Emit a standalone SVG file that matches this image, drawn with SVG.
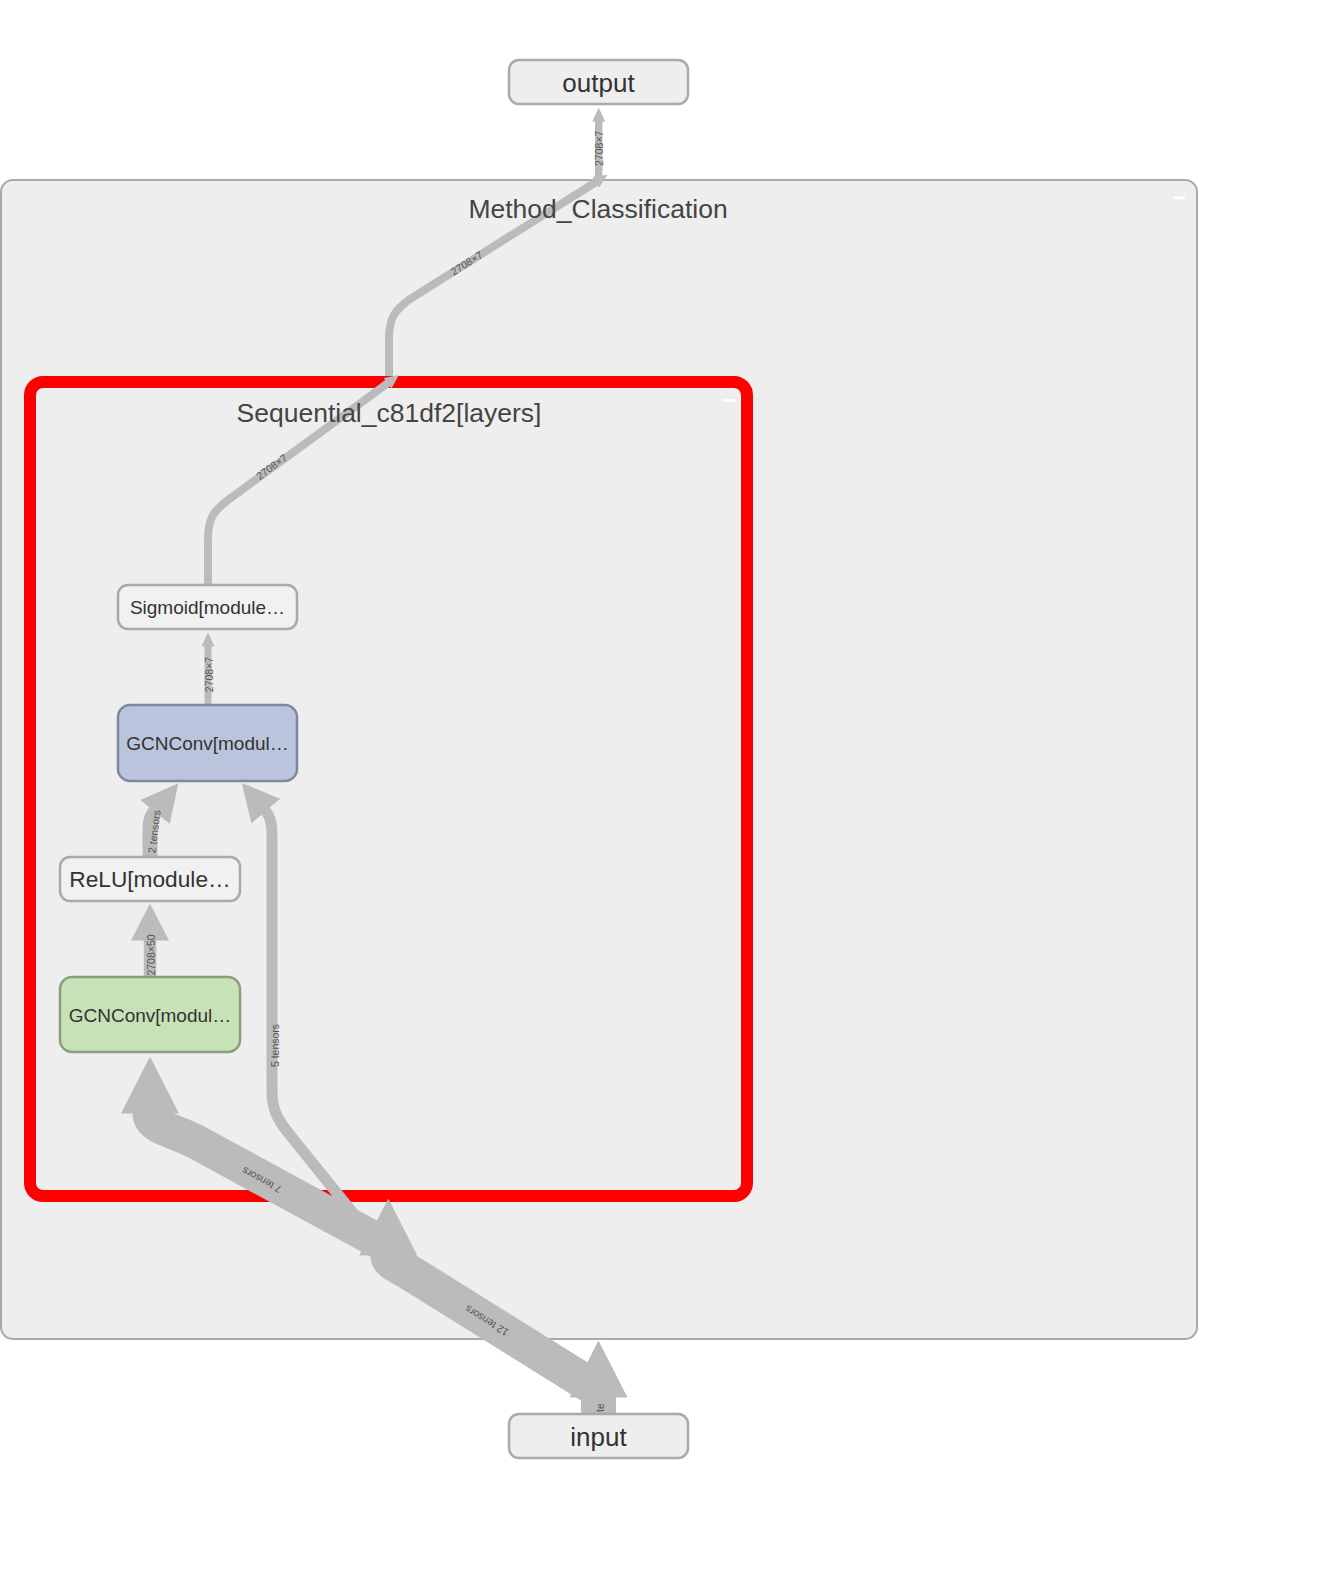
<svg xmlns="http://www.w3.org/2000/svg" width="1317" height="1579" viewBox="0 0 1317 1579">
  <style>
    .cluster { fill: #eeeeee; stroke: #a9a9a9; stroke-width: 2; }
    .seq { fill: #eeeeee; stroke: #ff0000; stroke-width: 12; }
    .title { font-family: 'Liberation Sans', Arial, sans-serif; font-size: 26.5px; fill: #444444; text-anchor: middle; }
    .node { fill: #eeeeee; stroke: #a9a9a9; stroke-width: 2.5; }
    .meta { fill: #f1f1f1; stroke: #a9a9a9; stroke-width: 2.5; }
    .blue { fill: #bac5dd; stroke: #7f889e; stroke-width: 2.5; }
    .green { fill: #c6e2b6; stroke: #8a9e7e; stroke-width: 2.5; }
    .ntext { font-family: 'Liberation Sans', Arial, sans-serif; fill: #333333; text-anchor: middle; }
    .edge { fill: none; stroke: #bbbbbb; }
    .elabel { font-family: 'Liberation Sans', Arial, sans-serif; font-size: 10.5px; fill: #555555; text-anchor: middle; }
    .minus { stroke: #ffffff; stroke-width: 2.5; }
  </style>
  <defs>
    <marker id="arrow-s" markerUnits="userSpaceOnUse" viewBox="0 0 14 13" markerWidth="14" markerHeight="13" refX="0.5" refY="6.5" orient="auto">
      <path d="M0,0 L14,6.5 L0,13 z" fill="#bbbbbb"/>
    </marker>
    <marker id="arrow-l" markerUnits="userSpaceOnUse" viewBox="0 0 37 38" markerWidth="37" markerHeight="38" refX="0.5" refY="19" orient="auto">
      <path d="M0,0 L37,19 L0,38 z" fill="#bbbbbb"/>
    </marker>
    <marker id="arrow-xl" markerUnits="userSpaceOnUse" viewBox="0 0 57 58" markerWidth="57" markerHeight="58" refX="0.5" refY="29" orient="auto">
      <path d="M0,0 L57,29 L0,58 z" fill="#bbbbbb"/>
    </marker>
  </defs>
  <rect width="1317" height="1579" fill="#ffffff"/>

  <g id="Method_Classification">
    <rect class="cluster" x="1" y="180" width="1196" height="1159" rx="12" ry="12"/>
    <line class="minus" x1="1173" y1="198" x2="1185" y2="198"/>
  </g>

  <g id="Sequential_c81df2">
    <rect class="seq" x="30" y="382" width="717" height="814" rx="13" ry="13"/>
    <line class="minus" x1="723" y1="400.5" x2="736" y2="400.5"/>
  </g>

  <g id="connectors">
    <path class="edge" stroke-width="36" d="M598,1390 L412,1274 C395,1263.5 388.3,1262 388.3,1255" marker-end="url(#arrow-xl)"/>
    <path class="edge" stroke-width="35" d="M598.5,1414 L598.5,1397" marker-end="url(#arrow-xl)"/>
    <path class="edge" stroke-width="35" d="M380,1242 L200,1144 C175,1130 150,1128 150,1113" marker-end="url(#arrow-xl)"/>
    <path class="edge" stroke-width="11" d="M365,1228 L290,1135 C276,1118 272,1108 272,1090 L272,834 C272,826 270.7,816.9 265.5,810.8" marker-end="url(#arrow-l)"/>
    <path class="edge" stroke-width="12.5" d="M150,977 L150,940" marker-end="url(#arrow-l)"/>
    <path class="edge" stroke-width="15" d="M150,857 L150,828 C150,822 151,817 155.3,811.7" marker-end="url(#arrow-l)"/>
    <path class="edge" stroke-width="7" d="M208,705 L208,646" marker-end="url(#arrow-s)"/>
    <path class="edge" stroke-width="8" d="M208,585 L208,540 C208,520 212,512 228,500 L388,383" marker-end="url(#arrow-s)"/>
    <path class="edge" stroke-width="8" d="M389,376 L389,338 C389,318 395,310 410,299 L596,182" marker-end="url(#arrow-s)"/>
    <path class="edge" stroke-width="7.5" d="M598.7,180 L598.7,121" marker-end="url(#arrow-s)"/>

    <text class="elabel" transform="translate(603,148.3) rotate(-90)">2708×7</text>
    <text class="elabel" transform="translate(468.7,266.4) rotate(-32.2)">2708×7</text>
    <text class="elabel" transform="translate(273.9,469.7) rotate(-36.2)">2708×7</text>
    <text class="elabel" transform="translate(213,674.5) rotate(-90)">2708×7</text>
    <text class="elabel" transform="translate(155.3,955) rotate(-90)">2708×50</text>
    <text class="elabel" transform="translate(158,832) rotate(-83)">2 tensors</text>
    <text class="elabel" transform="translate(278.5,1045.5) rotate(-90)">5 tensors</text>
    <text class="elabel" transform="translate(263.5,1176.8) rotate(208.55)">7 tensors</text>
    <text class="elabel" transform="translate(488.6,1317.7) rotate(211.7)">12 tensors</text>
    <text class="elabel" transform="translate(604,1407.5) rotate(-90)">te</text>
  </g>

  <g id="Method_Classification-title">
    <text class="title" x="598" y="218">Method_Classification</text>
  </g>

  <g id="Sequential_c81df2-title">
    <text class="title" x="389" y="422">Sequential_c81df2[layers]</text>
  </g>

  <g id="output">
    <rect class="node" x="509" y="60" width="179" height="44" rx="10" ry="10"/>
    <text class="ntext" x="598.5" y="91.5" font-size="26">output</text>
  </g>

  <g id="input">
    <rect class="node" x="509" y="1414" width="179" height="44" rx="10" ry="10"/>
    <text class="ntext" x="598.5" y="1445.5" font-size="26">input</text>
  </g>

  <g id="Sigmoid">
    <rect class="meta" x="118" y="585" width="179" height="44" rx="10" ry="10"/>
    <text class="ntext" x="207.5" y="614" font-size="19">Sigmoid[module…</text>
  </g>

  <g id="GCNConv_2">
    <rect class="blue" x="118" y="705" width="179" height="76" rx="12" ry="12"/>
    <text class="ntext" x="207.5" y="750" font-size="19">GCNConv[modul…</text>
  </g>

  <g id="ReLU">
    <rect class="meta" x="60" y="857" width="180" height="44" rx="10" ry="10"/>
    <text class="ntext" x="150" y="886.5" font-size="22.7">ReLU[module…</text>
  </g>

  <g id="GCNConv_1">
    <rect class="green" x="60" y="977" width="180" height="75" rx="12" ry="12"/>
    <text class="ntext" x="150" y="1021.5" font-size="19">GCNConv[modul…</text>
  </g>
</svg>
